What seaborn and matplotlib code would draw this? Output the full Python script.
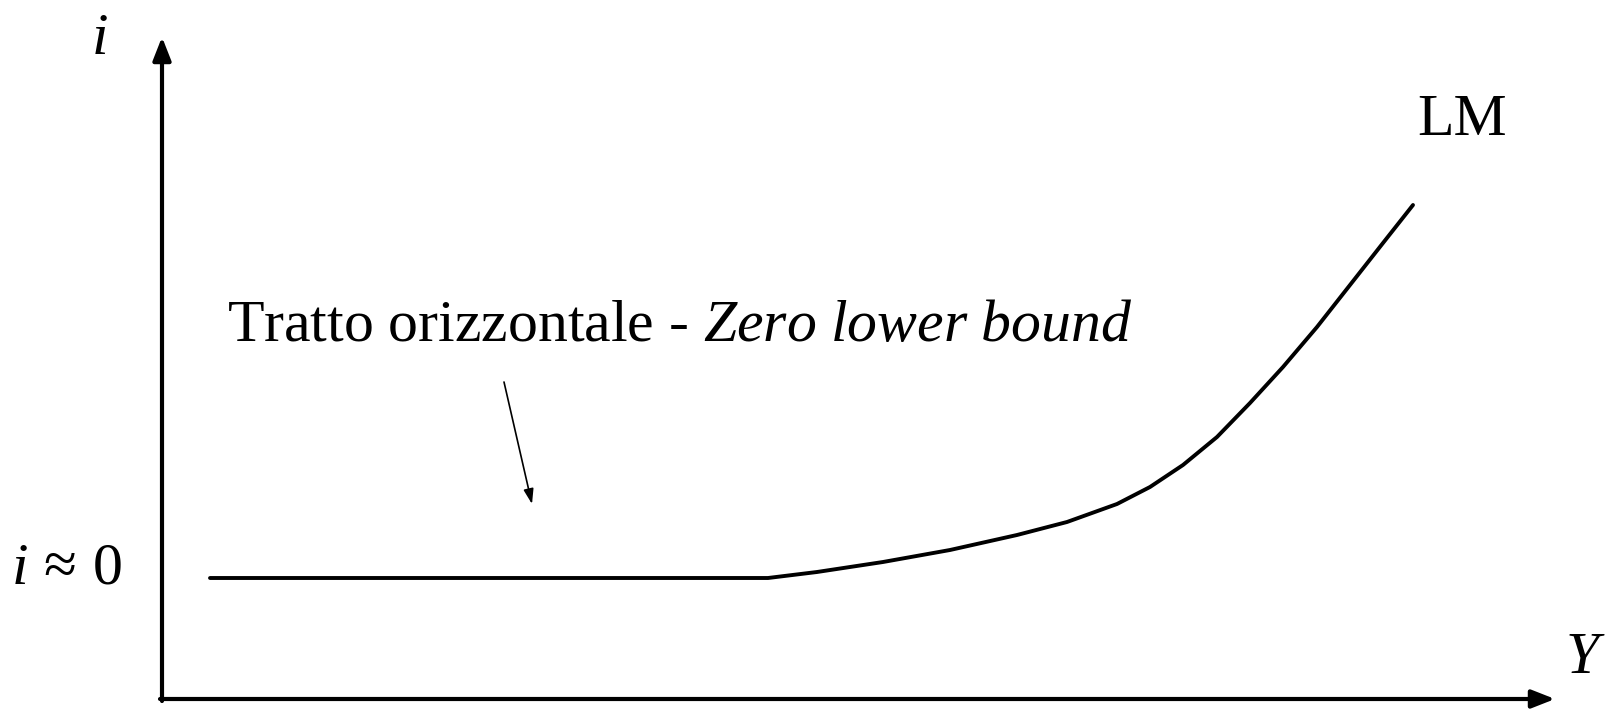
import numpy as np
import pandas as pd
import matplotlib
matplotlib.use("Agg")
import matplotlib.pyplot as plt
import seaborn as sns

sns.set_style("white")
plt.rcParams["font.family"] = ["Liberation Serif", "DejaVu Serif"]
plt.rcParams["text.color"] = "black"
plt.rcParams["mathtext.fontset"] = "custom"
plt.rcParams["mathtext.rm"] = "Liberation Serif"
plt.rcParams["mathtext.it"] = "Liberation Serif:italic"

# LM curve (Y, i) - flat part at the zero lower bound, then rising
flat_y = [48, 606]
flat_i = [121, 121]
curve_y = [606, 655, 721, 788, 855, 905, 955, 988, 1021, 1055,
           1088, 1121, 1155, 1188, 1221, 1251]
curve_i = [121, 127, 137, 149, 164, 177, 195, 212, 234, 262,
           296, 332, 372, 414, 456, 494]

# axis extents
y_axis_top = 662
x_axis_end = 1393

df = pd.DataFrame({
    "Y": flat_y + curve_y[1:],
    "i": flat_i + curve_i[1:],
})

fig = plt.figure(figsize=(16.05, 7.12), dpi=100)
ax = fig.add_axes([0, 0, 1, 1])
ax.set_xlim(-162, 1443)
ax.set_ylim(-13, 699)
ax.axis("off")

sns.lineplot(data=df, x="Y", y="i", sort=False, estimator=None,
             color="black", linewidth=2.8, ax=ax)

# axes with arrows
arrow_kw = dict(arrowstyle="-|>,head_length=1.4,head_width=0.55",
                color="black", lw=3, shrinkA=0, shrinkB=0)
ax.annotate("", xy=(0, y_axis_top), xytext=(0, -2), arrowprops=arrow_kw)
ax.annotate("", xy=(x_axis_end, 0), xytext=(-2, 0), arrowprops=arrow_kw)

FS = 43
ax.text(-62, 645, "i", fontsize=FS, style="italic", ha="center", va="baseline")
ax.text(1404, 26, "Y", fontsize=FS, style="italic", ha="left", va="baseline")
ax.text(-40, 116, r"$i\,\approx\,0$", fontsize=FS, ha="right", va="baseline")
ax.text(1255, 564, "LM", fontsize=FS, ha="left", va="baseline")
ax.text(65, 358, r"Tratto orizzontale - $\mathit{Zero\ lower\ bound}$",
        fontsize=FS, ha="left", va="baseline")

# pointer to the flat segment
ax.annotate("", xy=(370, 195), xytext=(342, 317),
            arrowprops=dict(arrowstyle="-|>,head_length=0.9,head_width=0.3",
                            color="black", lw=1.2, shrinkA=0, shrinkB=0))

fig.savefig("out.png", dpi=100)
